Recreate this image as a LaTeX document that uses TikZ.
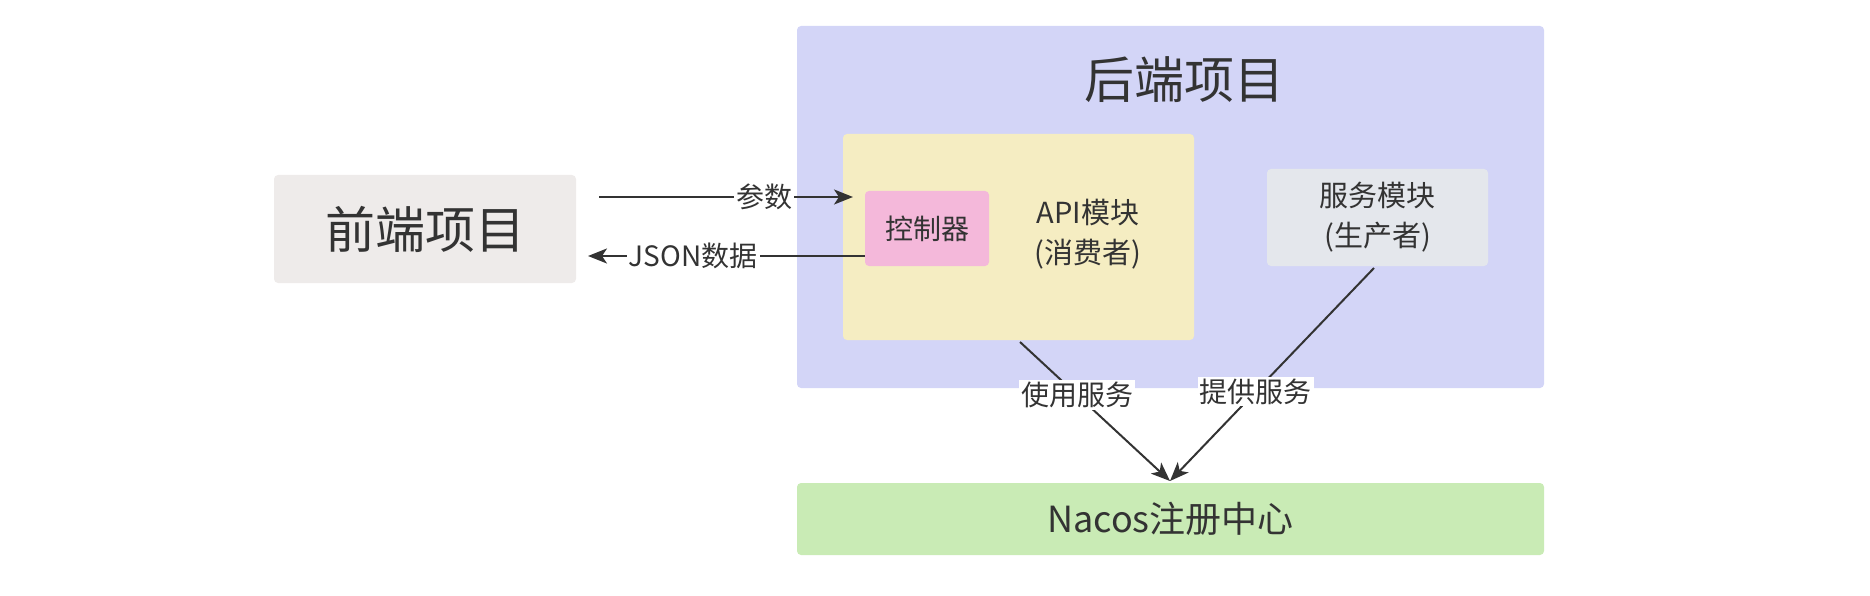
\documentclass[tikz,border=0pt]{standalone}
\usepackage{fontspec}
\setmainfont{Noto Sans CJK SC}
\usetikzlibrary{arrows.meta}
\definecolor{txt}{HTML}{333333}
\definecolor{backc}{HTML}{D3D5F7}
\definecolor{frontc}{HTML}{EEEBEA}
\definecolor{apic}{HTML}{F5EDC2}
\definecolor{ctrlc}{HTML}{F4B8DA}
\definecolor{svcc}{HTML}{E4E7EC}
\definecolor{nacosc}{HTML}{C9EBB5}
\tikzset{
  box/.style={rounded corners=4pt, inner sep=0pt, text=txt, align=center},
  conn/.style={draw=txt, line width=2pt, -{Stealth[length=19pt,width=15pt,inset=5pt]}},
  lbl/.style={fill=white, inner sep=2pt, text=txt, font=\fontsize{28}{32}\selectfont},
}
\begin{document}
\begin{tikzpicture}[x=1pt,y=-1pt]
\useasboundingbox (0,0) rectangle (1870,596);
\node[box, fill=frontc, minimum width=302pt, minimum height=108pt, font=\fontsize{50}{60}\selectfont] (front) at (425,229) {前端项目};
\node[box, fill=backc, minimum width=747pt, minimum height=362pt] (back) at (1170.5,207) {};
\node[text=txt, font=\fontsize{50}{60}\selectfont] (title) at (1184,80) {后端项目};
\node[box, fill=apic, minimum width=351pt, minimum height=206pt] (api) at (1018.5,237) {};
\node[text=txt, align=center, font=\fontsize{29}{40}\selectfont] (apit) at (1088,234) {API模块\\(消费者)};
\node[box, fill=ctrlc, minimum width=124pt, minimum height=75pt, font=\fontsize{28}{32}\selectfont] (ctrl) at (927,228.5) {控制器};
\node[box, fill=svcc, minimum width=221pt, minimum height=97pt, font=\fontsize{29}{40}\selectfont] (svc) at (1377.5,217.5) {服务模块\\(生产者)};
\node[box, fill=nacosc, minimum width=747pt, minimum height=72pt, font=\fontsize{36}{40}\selectfont] (nacos) at (1170.5,519) {Nacos注册中心};
\coordinate (pin) at (599,197);
\coordinate (pout) at (853,197);
\coordinate (jout) at (588,256);
\coordinate (ustart) at (1020,342);
\coordinate (pstart) at (1374,268);
\coordinate (tip) at (1170,481);
\draw[conn] (pin) -- node[lbl, pos=0.65] {参数} (pout);
\draw[conn] (ctrl.west |- jout) -- node[lbl, pos=0.62] {JSON数据} (jout);
\draw[conn] (ustart) -- node[lbl, pos=0.38] {使用服务} (tip);
\draw[conn] (pstart) -- node[lbl, pos=0.58] {提供服务} (tip);
\end{tikzpicture}
\end{document}
